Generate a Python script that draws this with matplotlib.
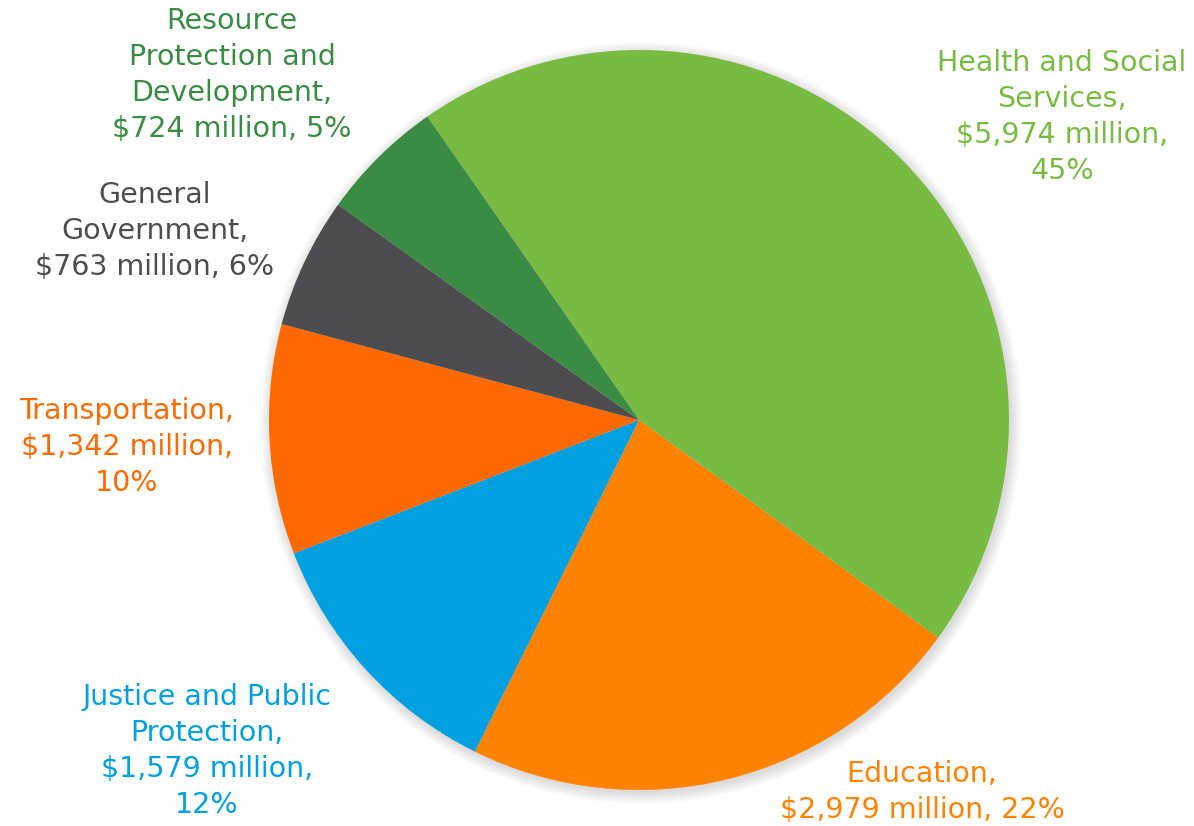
import matplotlib.pyplot as plt
from matplotlib.patches import Circle

# spending by area, $ million
categories = ["Health and Social Services", "Education", "Justice and Public Protection",
              "Transportation", "General Government", "Resource Protection and Development"]
values = [5974, 2979, 1579, 1342, 763, 724]
percents = [45, 22, 12, 10, 6, 5]
labels = [
    "Health and Social\nServices,\n$5,974 million,\n45%",
    "Education,\n$2,979 million, 22%",
    "Justice and Public\nProtection,\n$1,579 million,\n12%",
    "Transportation,\n$1,342 million,\n10%",
    "General\nGovernment,\n$763 million, 6%",
    "Resource\nProtection and\nDevelopment,\n$724 million, 5%",
]
colors = ["#78BB43", "#FF8200", "#009FDF", "#FF6A00", "#4D4D4F", "#3A8B44"]

W, H = 1194, 826
fig = plt.figure(figsize=(W / 100, H / 100), dpi=100)
ax = fig.add_axes([0, 0, 1, 1])

cx, cy, r = 639, H - 420, 370

# soft shadow around the pie
for k in range(12):
    ax.add_patch(Circle((cx + 2, cy - 3), r + 11 - k, color="black", alpha=0.010, lw=0, zorder=0))

ax.pie(values, colors=colors, startangle=124.9, counterclock=False,
       center=(cx, cy), radius=r, wedgeprops=dict(linewidth=0), frame=True)
ax.set_xlim(0, W)
ax.set_ylim(0, H)
ax.set_aspect("equal")
ax.axis("off")

# label positions in pixels (x center, y center of the text block)
label_pos = [(1062, 117), (922, 792), (207, 751), (127, 447), (155, 231), (232, 75)]
for lab, (x, y), c in zip(labels, label_pos, colors):
    ax.text(x, H - y, lab, ha="center", va="center", color=c, fontsize=20.5,
            family="DejaVu Sans", linespacing=1.36, multialignment="center")

fig.savefig("out.png", dpi=100)
